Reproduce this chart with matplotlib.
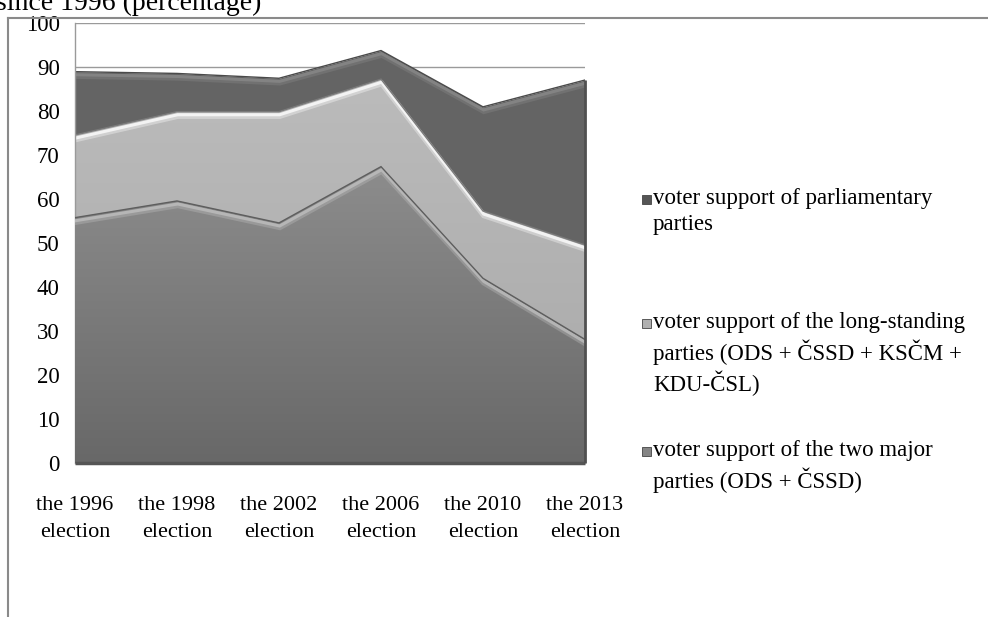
import numpy as np
import matplotlib
matplotlib.use("Agg")
import matplotlib.pyplot as plt
import matplotlib.patheffects as pe
from matplotlib.patches import Rectangle
from matplotlib.lines import Line2D
from matplotlib.colors import LinearSegmentedColormap

# Election results (percent of votes), cumulative levels of the stacked areas
elections = ["the 1996\nelection", "the 1998\nelection", "the 2002\nelection",
             "the 2006\nelection", "the 2010\nelection", "the 2013\nelection"]
two_major = [55.8, 59.6, 54.6, 67.4, 42.0, 28.1]
long_standing = [74.6, 79.9, 79.9, 87.3, 57.3, 49.6]
parliamentary = [89.0, 88.6, 87.5, 93.8, 81.0, 87.1]
yticks = list(range(0, 101, 10))

labels = [
    "voter support of parliamentary\nparties",
    "voter support of the long-standing\nparties (ODS + ČSSD + KSČM +\nKDU-ČSL)",
    "voter support of the two major\nparties (ODS + ČSSD)",
]

SERIF = "Liberation Serif"
W, H = 988, 617
fig = plt.figure(figsize=(W / 100, H / 100), dpi=100)

ax_l, ax_r, ax_t, ax_b = 75, 585, 23.3, 463
ax = fig.add_axes([ax_l / W, (H - ax_b) / H, (ax_r - ax_l) / W, (ax_b - ax_t) / H])

x = np.arange(len(elections))
ax.set_xlim(x[0], x[-1])
ax.set_ylim(0, 100)

# horizontal gridlines behind the areas
for v in yticks[1:]:
    ax.axhline(v, color="#9a9a9a", lw=1.0, zorder=0)

zeros = np.zeros(len(x))
grad = np.linspace(0, 1, 256).reshape(-1, 1)

# parliamentary band
ax.fill_between(x, long_standing, parliamentary, color="#646464", lw=0, zorder=1)

# long-standing band with a soft vertical gradient
mid_poly = ax.fill_between(x, two_major, long_standing, color="#bababa", lw=0, zorder=2)
cm_mid = LinearSegmentedColormap.from_list("mid", ["#a8a8a8", "#bebebe"])
im = ax.imshow(grad, extent=[x[0], x[-1], 0, 100], origin="lower", cmap=cm_mid,
               aspect="auto", zorder=2)
im.set_clip_path(mid_poly.get_paths()[0], transform=ax.transData)

# two-major band with gradient
low_poly = ax.fill_between(x, zeros, two_major, color="#7c7c7c", lw=0, zorder=3)
cm_low = LinearSegmentedColormap.from_list("low", ["#686868", "#8e8e8e"])
im2 = ax.imshow(grad, extent=[x[0], x[-1], 0, 70], origin="lower", cmap=cm_low,
                aspect="auto", zorder=3)
im2.set_clip_path(low_poly.get_paths()[0], transform=ax.transData)

# bevelled edges along each band's top
bevel = [
    (parliamentary, "#4a4a4a", "#8a8a8a", 1),
    (long_standing, "#7a7a7a", "#ffffff", 2),
    (two_major, "#5e5e5e", "#c0c0c0", 3),
]
for vals, edge, light, z in bevel:
    ax.plot(x, vals, color=edge, lw=1.0, zorder=z + 0.5, solid_joinstyle="miter",
            path_effects=[pe.SimpleLineShadow(offset=(0.6, -3.2), shadow_color=light,
                                              alpha=0.35, linewidth=4.0),
                          pe.SimpleLineShadow(offset=(0.5, -2.2), shadow_color=light,
                                              alpha=0.75, linewidth=2.2),
                          pe.Normal()])

# floor and side edges of the plot body
ax.plot([x[0], x[-1]], [0, 0], color="#555555", lw=2.5, zorder=6, clip_on=False,
        solid_capstyle="butt")
ax.plot([x[-1], x[-1]], [0, parliamentary[-1]], color="#505050", lw=2.0, zorder=6,
        clip_on=False, solid_capstyle="butt")

for s in ["top", "right", "bottom"]:
    ax.spines[s].set_visible(False)
ax.spines["left"].set_color("#9a9a9a")
ax.spines["left"].set_linewidth(1.0)

ax.set_yticks(yticks)
ax.set_yticklabels([str(v) for v in yticks], fontfamily=SERIF, fontsize=16.5)
ax.set_xticks(x)
ax.set_xticklabels(elections, fontfamily=SERIF, fontsize=16, linespacing=1.55)
ax.tick_params(axis="y", length=0, pad=11)
ax.tick_params(axis="x", length=0, pad=24)

# legend on the right
leg_colors = ["#555555", "#b0b0b0", "#858585"]
leg_first_line = [200, 324, 452]
for lab, c, yc in zip(labels, leg_colors, leg_first_line):
    fig.patches.append(Rectangle((642 / W, 1 - (yc + 4) / H), 9 / W, 9 / H,
                                 transform=fig.transFigure, facecolor=c,
                                 edgecolor="#444444", lw=0.6))
    fig.text(653 / W, 1 - (yc - 12) / H, lab, fontfamily=SERIF, fontsize=16.5,
             va="top", ha="left", linespacing=1.3)

# partially visible heading and outer chart frame
fig.text(-4 / W, 1 - 10 / H, "since 1996 (percentage)", fontfamily=SERIF,
         fontsize=20, va="baseline", ha="left")
fig.add_artist(Line2D([8 / W, 1], [1 - 18 / H, 1 - 18 / H], color="#8a8a8a", lw=1.5,
                      transform=fig.transFigure))
fig.add_artist(Line2D([8 / W, 8 / W], [0, 1 - 18 / H], color="#8a8a8a", lw=1.5,
                      transform=fig.transFigure))

fig.savefig("out.png", dpi=100)
